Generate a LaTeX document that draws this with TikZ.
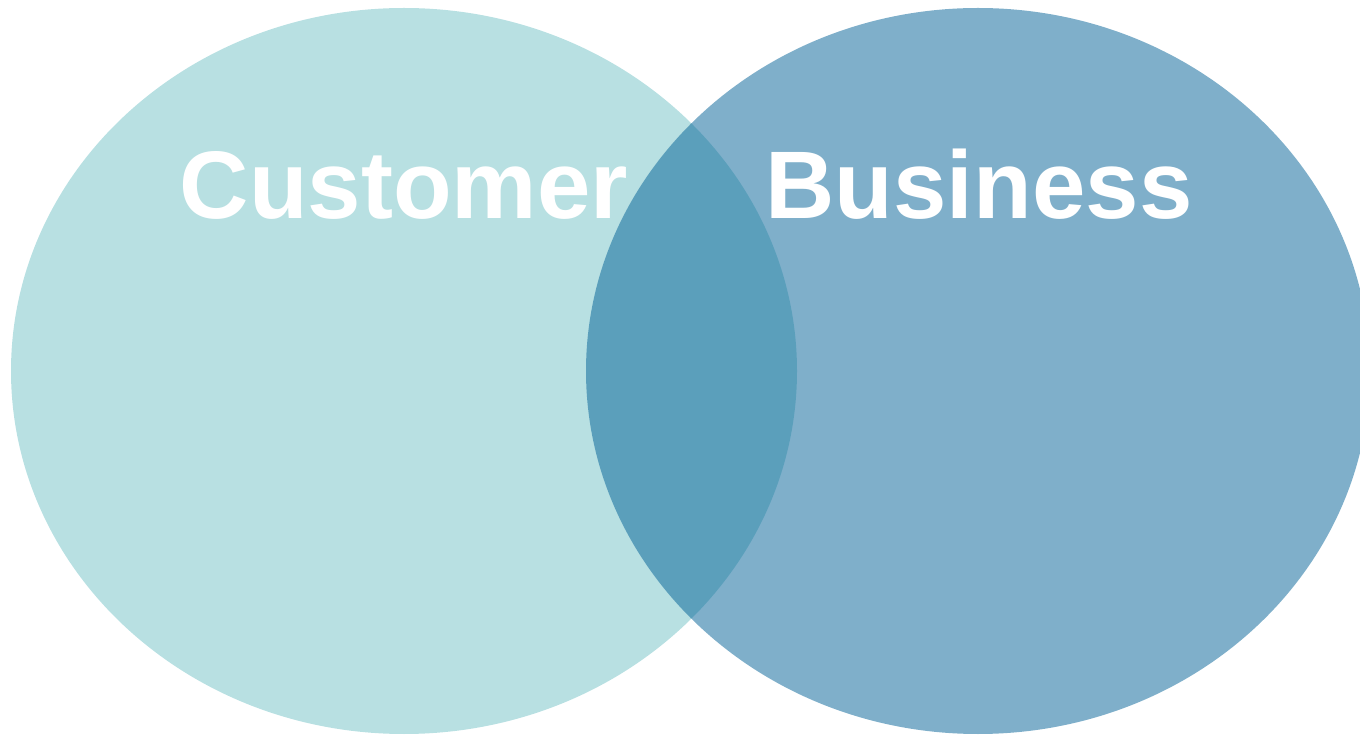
\documentclass[tikz,border=0pt]{standalone}
\usepackage{fontspec}
\setmainfont{Liberation Sans}
\definecolor{custfill}{RGB}{184,224,226}
\definecolor{busfill}{RGB}{0,96,150}
\tikzset{
  setlabel/.style={text=white,font=\fontsize{48}{48}\selectfont\bfseries,anchor=base,inner sep=0pt}
}
\begin{document}
\begin{tikzpicture}[x=0.5pt,y=0.5pt]
  \useasboundingbox (0,0) rectangle (1360,734);

  % Customer set
  \fill[custfill] (404,363) ellipse [x radius=393,y radius=363];

  % Business set, see-through so the overlap darkens
  \fill[busfill,fill opacity=0.5] (978,363) ellipse [x radius=392,y radius=363];

  % Labels
  \node[setlabel] (customer) at (404,515) {Customer};
  \node[setlabel] (business) at (979,515) {Business};
\end{tikzpicture}
\end{document}
